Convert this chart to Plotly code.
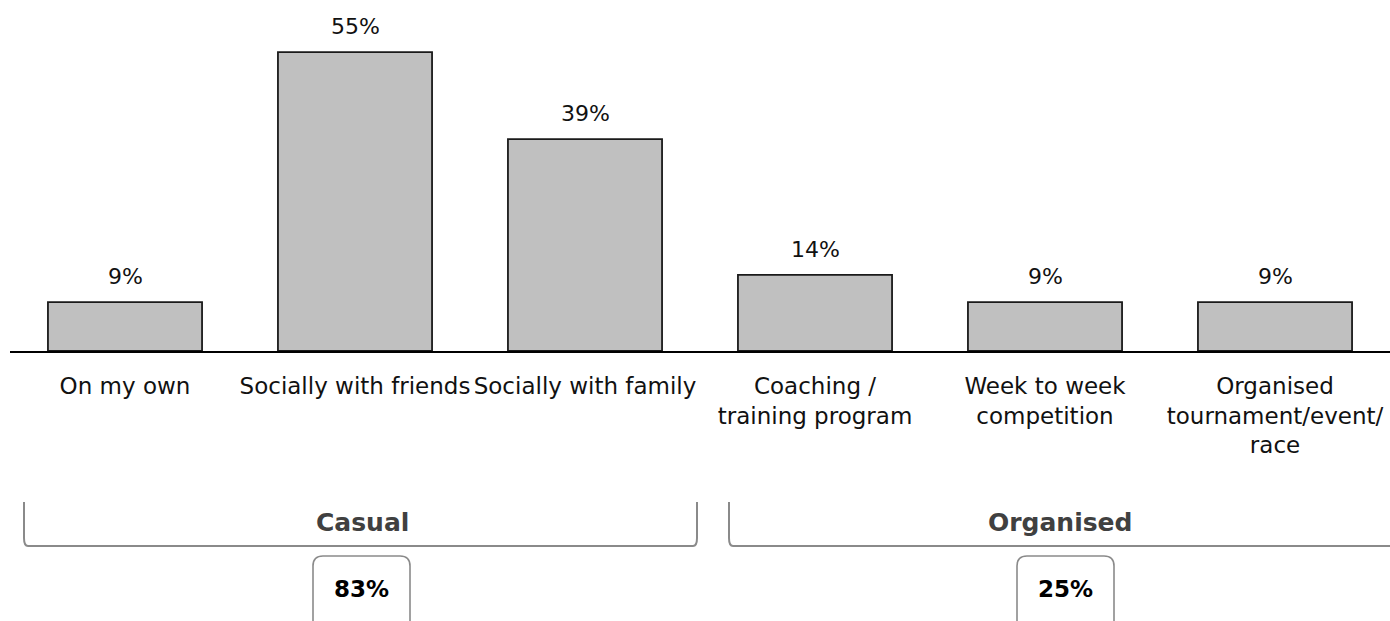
import plotly.graph_objects as go

# Survey: how people take part in the activity
categories = [
    "On my own",
    "Socially with friends",
    "Socially with family",
    "Coaching /<br>training program",
    "Week to week<br>competition",
    "Organised<br>tournament/event/<br>race",
]
shares = [9, 55, 39, 14, 9, 9]

groups = ["Casual", "Organised"]
group_totals = [83, 25]

W, H = 1390, 621
ML, MR, MT, MB = 10, 0, 0, 270
PW, PH = W - ML - MR, H - MT - MB

FONT = "DejaVu Sans"


def px(x):
    return (x - ML) / PW


def py(y):
    return (H - MB - y) / PH


xs = list(range(len(categories)))

fig = go.Figure(
    go.Bar(
        x=xs,
        y=shares,
        marker=dict(color="#c0c0c0", line=dict(color="#1a1a1a", width=1.8)),
        width=0.67,
        hoverinfo="skip",
    )
)

# value labels above each bar
for x, v in zip(xs, shares):
    fig.add_annotation(
        x=x, y=v, text=f"{v}%", showarrow=False, yanchor="bottom", yshift=11,
        font=dict(family=FONT, size=22, color="#111111"),
    )


def bracket(x0, x1, y_top, y_bot, r=8, open_right=False):
    p = f"M {px(x0)} {py(y_top)} L {px(x0)} {py(y_bot - r)} Q {px(x0)} {py(y_bot)} {px(x0 + r / 2)} {py(y_bot)} "
    if open_right:
        p += f"L {px(x1)} {py(y_bot)}"
    else:
        p += f"L {px(x1 - r / 2)} {py(y_bot)} Q {px(x1)} {py(y_bot)} {px(x1)} {py(y_bot - r)} L {px(x1)} {py(y_top)}"
    return p


def rounded_box(x0, x1, y0, y1, r=10):
    return (
        f"M {px(x0)} {py(y1)} L {px(x0)} {py(y0 + r)} "
        f"Q {px(x0)} {py(y0)} {px(x0 + r)} {py(y0)} "
        f"L {px(x1 - r)} {py(y0)} Q {px(x1)} {py(y0)} {px(x1)} {py(y0 + r)} "
        f"L {px(x1)} {py(y1)}"
    )


group_spans = [(24, 697, False), (729, 1400, True)]
box_spans = [(313, 410), (1017, 1114)]
label_centers = [362, 1060]

for (g, total, (b0, b1, open_r), (c0, c1), lc) in zip(groups, group_totals, group_spans, box_spans, label_centers):
    fig.add_shape(type="path", xref="paper", yref="paper",
                  path=bracket(b0, b1, 502, 546, open_right=open_r),
                  line=dict(color="#8a8a8a", width=2))
    fig.add_annotation(xref="paper", yref="paper", x=px(lc), y=py(522), text=g,
                       showarrow=False, xanchor="center", yanchor="middle",
                       font=dict(family=FONT, size=25, color="#404040", weight="bold"))
    fig.add_shape(type="path", xref="paper", yref="paper",
                  path=rounded_box(c0, c1, 556, 640),
                  line=dict(color="#8a8a8a", width=1.6))
    fig.add_annotation(xref="paper", yref="paper", x=px((c0 + c1) / 2), y=py(589), text=f"{total}%",
                       showarrow=False, xanchor="center", yanchor="middle",
                       font=dict(family=FONT, size=23, color="#000000", weight="bold"))

fig.update_layout(
    width=W, height=H,
    margin=dict(l=ML, r=MR, t=MT, b=MB),
    paper_bgcolor="white", plot_bgcolor="white",
    showlegend=False,
    bargap=0.33,
    xaxis=dict(
        tickvals=xs, ticktext=categories, range=[-0.5, 5.5],
        showline=True, linecolor="#000000", linewidth=2,
        showgrid=False, zeroline=False, ticks="", ticklabelstandoff=13,
        tickfont=dict(family=FONT, size=23, color="#111111"),
        fixedrange=True,
    ),
    yaxis=dict(range=[0, 64.6], visible=False, fixedrange=True),
)

fig.write_html("out.html", config={"displayModeBar": False})
